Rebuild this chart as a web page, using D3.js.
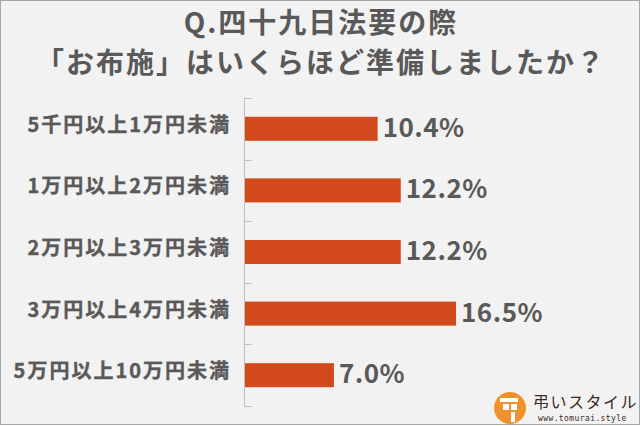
<!DOCTYPE html>
<html>
<head>
<meta charset="utf-8">
<script src="https://cdn.jsdelivr.net/npm/d3@7"></script>
<style>
  html, body { margin: 0; padding: 0; background: #ffffff; }
  svg { display: block; }
  text { font-family: "Noto Sans CJK JP", "Noto Sans", sans-serif; }
  text.url { font-family: "DejaVu Sans Mono", monospace; }
</style>
</head>
<body>
<svg id="chart" width="640" height="426"></svg>
<script>
const titleLines = ["Q.四十九日法要の際", "「お布施」はいくらほど準備しましたか？"];
const categories = ["5千円以上1万円未満", "1万円以上2万円未満", "2万円以上3万円未満", "3万円以上4万円未満", "5万円以上10万円未満"];
const values = [10.4, 12.2, 12.2, 16.5, 7.0];
const valueLabels = ["10.4%", "12.2%", "12.2%", "16.5%", "7.0%"];

const W = 640, H = 426;
const svg = d3.select("#chart");
const textColor = "#595959";
const barColor = "#d24a1b";

// background panel with border
svg.append("rect").attr("x", 0.5).attr("y", 0.5).attr("width", W - 1).attr("height", 424)
  .attr("fill", "#f2f2f2").attr("stroke", "#a6a6a6").attr("stroke-width", 1);

// title
svg.append("g").selectAll("text").data(titleLines).join("text")
  .attr("x", 321).attr("y", (d, i) => 33 + i * 40)
  .attr("text-anchor", "middle")
  .attr("font-size", 28).attr("font-weight", "bold")
  .attr("letter-spacing", "2px")
  .attr("fill", textColor)
  .text(d => d);

const x0 = 244;
const x = d3.scaleLinear().domain([0, 20]).range([x0, x0 + 257]);
const y = d3.scaleBand().domain(categories).range([98, 406]).paddingInner(0.61).paddingOuter(0.305);

// bars
svg.append("g").selectAll("rect").data(values).join("rect")
  .attr("x", x(0))
  .attr("y", (d, i) => y(categories[i]))
  .attr("width", d => x(d) - x(0))
  .attr("height", y.bandwidth())
  .attr("fill", barColor);

// axis line and ticks
const axisG = svg.append("g").attr("transform", `translate(${x0 + 0.5},0)`);
axisG.append("line").attr("x1", 0).attr("x2", 0).attr("y1", 98).attr("y2", 406.5)
  .attr("stroke", "#bfbfbf").attr("stroke-width", 1);
const boundaries = d3.range(categories.length + 1).map(i => y.range()[0] + i * y.step());
axisG.selectAll("line.tick").data(boundaries).join("line").attr("class", "tick")
  .attr("x1", 0).attr("x2", 7)
  .attr("y1", d => Math.round(d) + 0.5).attr("y2", d => Math.round(d) + 0.5)
  .attr("stroke", "#bfbfbf").attr("stroke-width", 1);

// category labels
svg.append("g").selectAll("text").data(categories).join("text")
  .attr("x", 231)
  .attr("y", d => y(d) + y.bandwidth() / 2 + 3)
  .attr("text-anchor", "end")
  .attr("font-size", 20).attr("font-weight", "bold")
  .attr("letter-spacing", "2px")
  .attr("fill", textColor)
  .attr("stroke", textColor).attr("stroke-width", 0.4)
  .text(d => d);

// value labels
svg.append("g").selectAll("text").data(values).join("text")
  .attr("x", d => x(d) + 5)
  .attr("y", (d, i) => y(categories[i]) + y.bandwidth() / 2 + 8)
  .attr("font-size", 26).attr("font-weight", "bold")
  .attr("letter-spacing", "0.5px")
  .attr("fill", textColor)
  .text((d, i) => valueLabels[i]);

// logo
const logo = svg.append("g");
logo.append("circle").attr("cx", 510).attr("cy", 408).attr("r", 16).attr("fill", "#f0922b");
logo.append("rect").attr("x", 500).attr("y", 398).attr("width", 18).attr("height", 4).attr("fill", "#ffffff");
logo.append("rect").attr("x", 503).attr("y", 404).attr("width", 6).attr("height", 6).attr("fill", "#ffffff");
logo.append("rect").attr("x", 511).attr("y", 404).attr("width", 6).attr("height", 6).attr("fill", "#ffffff");
logo.append("rect").attr("x", 511).attr("y", 412).attr("width", 4).attr("height", 10).attr("fill", "#ffffff");
logo.append("text").attr("x", 533).attr("y", 408).attr("font-size", 16)
  .attr("letter-spacing", "1.5px").attr("fill", "#3b2a1e").text("弔いスタイル");
logo.append("text").attr("class", "url").attr("x", 538).attr("y", 421).attr("font-size", 8)
  .attr("letter-spacing", "0.4px")
  .attr("fill", "#3b2a1e").text("www.tomurai.style");
</script>
</body>
</html>
